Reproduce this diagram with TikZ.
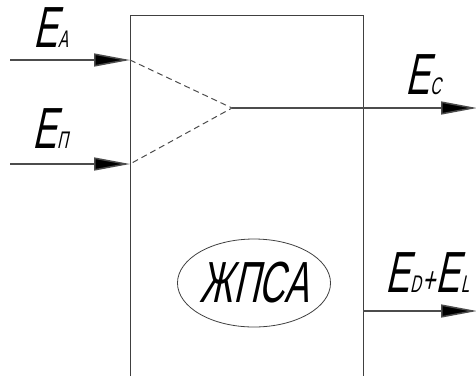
\documentclass[tikz,border=0pt]{standalone}
\usepackage{fontspec}
\usetikzlibrary{arrows.meta,shapes.geometric}
\newfontfamily\gostfont[FakeSlant=0.22,FakeStretch=0.62]{Liberation Sans}
\newcommand{\sub}[1]{{\fontsize{24}{24}\selectfont\kern1pt #1}}
\newcommand{\plussign}{{\fontsize{36}{36}\selectfont\kern1pt +\kern1pt}}

\tikzset{
  sig/.style={line width=1.5pt,draw=black!70,-{Triangle[length=36pt,width=13pt,fill=black]}},
  mix/.style={line width=1pt,draw=black!70,dash pattern=on 6pt off 4pt},
  lbl/.style={font=\gostfont\fontsize{58}{58}\selectfont,inner sep=0pt,anchor=base west}
}

\begin{document}
\begin{tikzpicture}[x=1pt,y=-1pt]
			\useasboundingbox (0,0) rectangle (476,376);
			% block
			\draw[draw=black!75,line width=1pt] (130,376) -- (130,15) -- (363,15) -- (363,376);
			\coordinate (inA) at (10,60);
			\coordinate (inP) at (10,164);
			\coordinate (jA) at (130,60);
			\coordinate (jP) at (130,164);
			\coordinate (sum) at (232,108);
			\coordinate (outC) at (477,108);
			\coordinate (jD) at (363,311);
			\coordinate (outD) at (477,311);
			\draw[sig] (inA) -- (jA);
			\draw[sig] (inP) -- (jP);
			\draw[mix] (jA) -- (sum) -- (jP);
			\draw[sig] (sum) -- (outC);
			\draw[sig] (jD) -- (outD);
			% labels
			\node[lbl] (labA) at (33,47) {E\sub{A}};
			\node[lbl] (labP) at (32,148) {E\sub{П}};
			\node[lbl] (labC) at (405,94) {E\sub{C}};
			\node[lbl] (labD) at (385,292) {E\sub{D}\plussign E\sub{L}};
			\node[draw=black!75,line width=0.8pt,ellipse,minimum width=150,minimum height=88,inner sep=0pt,
			  font=\gostfont\fontsize{58}{58}\selectfont] (core) at (254,283) {ЖПСА};
			\end{tikzpicture}
\end{document}
